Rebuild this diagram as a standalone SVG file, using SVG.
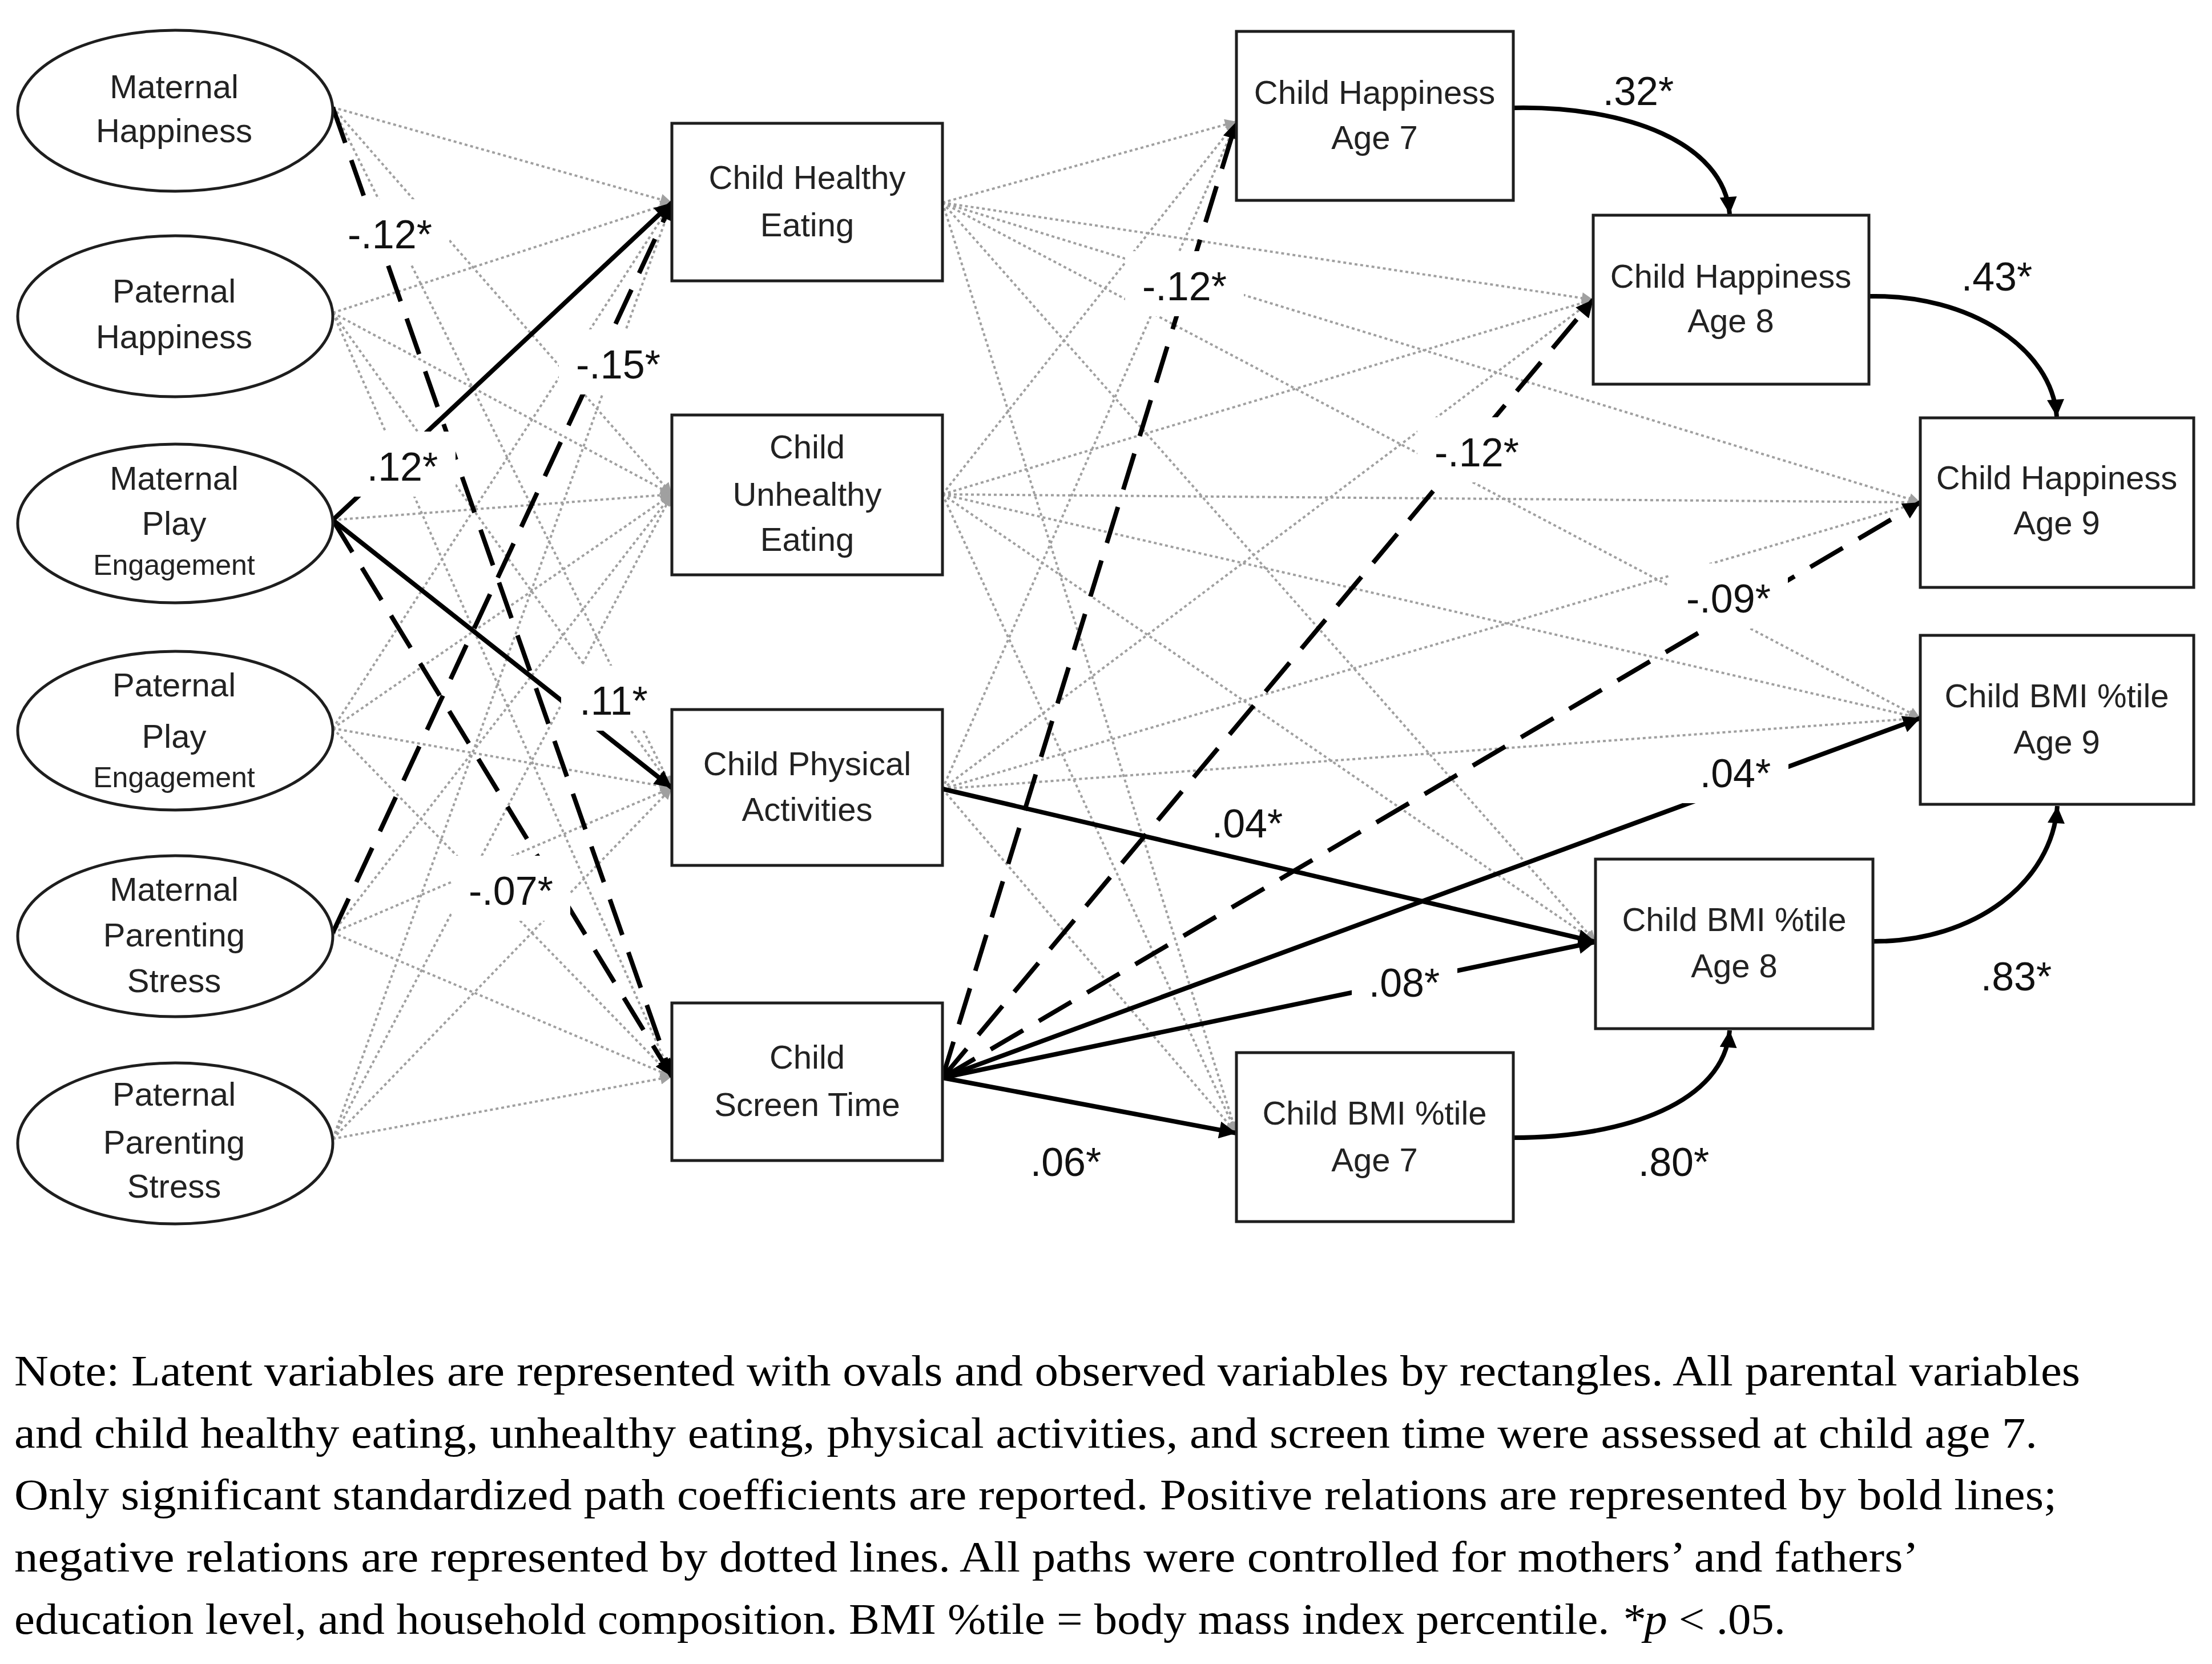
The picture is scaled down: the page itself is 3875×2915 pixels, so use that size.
<svg xmlns="http://www.w3.org/2000/svg" width="3875" height="2915" viewBox="0 0 3875 2915">
<style>
.node rect,.node ellipse{fill:#fff;stroke:#1e1e1e;stroke-width:5}
.nt{font-family:"Liberation Sans",Arial,sans-serif;font-size:58px;fill:#222;text-anchor:middle}
.sm{font-size:50px}
.lbl{font-family:"Liberation Sans",Arial,sans-serif;font-size:70px;fill:#111;text-anchor:middle}
.lbox{fill:#fff}
.dot{stroke:#a0a0a0;stroke-width:4;stroke-dasharray:5 5;fill:none;marker-end:url(#ag)}
.sol{stroke:#000;stroke-width:8;fill:none;marker-end:url(#ab)}
.dsh{stroke:#000;stroke-width:8;stroke-dasharray:66 32;fill:none;marker-end:url(#ab)}
.note{font-family:"Liberation Serif","Times New Roman",serif;font-size:77px;fill:#000}
</style>
<defs>
<marker id="ab" viewBox="0 0 10 10" refX="10" refY="5" markerWidth="38" markerHeight="30" markerUnits="userSpaceOnUse" orient="auto"><path d="M0,0 L10,5 L0,10 z" fill="#000"/></marker>
<marker id="ag" viewBox="0 0 10 10" refX="10" refY="5" markerWidth="22" markerHeight="20" markerUnits="userSpaceOnUse" orient="auto"><path d="M0,0 L10,5 L0,10 z" fill="#a0a0a0"/></marker>
</defs>
<rect width="3875" height="2915" fill="#fff"/>
<g id="connectors">
<g id="dotted-left">
<line class="dot" x1="583" y1="188" x2="1177" y2="355"/>
<line class="dot" x1="583" y1="188" x2="1177" y2="866"/>
<line class="dot" x1="583" y1="188" x2="1177" y2="1380"/>
<line class="dot" x1="583" y1="548" x2="1177" y2="355"/>
<line class="dot" x1="583" y1="548" x2="1177" y2="866"/>
<line class="dot" x1="583" y1="548" x2="1177" y2="1380"/>
<line class="dot" x1="583" y1="548" x2="1177" y2="1886"/>
<line class="dot" x1="583" y1="911" x2="1177" y2="866"/>
<line class="dot" x1="583" y1="1276" x2="1177" y2="355"/>
<line class="dot" x1="583" y1="1276" x2="1177" y2="866"/>
<line class="dot" x1="583" y1="1276" x2="1177" y2="1380"/>
<line class="dot" x1="583" y1="1276" x2="1177" y2="1886"/>
<line class="dot" x1="583" y1="1634" x2="1177" y2="866"/>
<line class="dot" x1="583" y1="1634" x2="1177" y2="1380"/>
<line class="dot" x1="583" y1="1634" x2="1177" y2="1886"/>
<line class="dot" x1="583" y1="1995" x2="1177" y2="355"/>
<line class="dot" x1="583" y1="1995" x2="1177" y2="866"/>
<line class="dot" x1="583" y1="1995" x2="1177" y2="1380"/>
<line class="dot" x1="583" y1="1995" x2="1177" y2="1886"/>
</g>
<g id="dotted-right">
<line class="dot" x1="1651" y1="355" x2="2166" y2="213"/>
<line class="dot" x1="1651" y1="355" x2="2791" y2="525"/>
<line class="dot" x1="1651" y1="355" x2="3364" y2="880"/>
<line class="dot" x1="1651" y1="355" x2="3364" y2="1258"/>
<line class="dot" x1="1651" y1="355" x2="2795" y2="1650"/>
<line class="dot" x1="1651" y1="355" x2="2166" y2="1985"/>
<line class="dot" x1="1651" y1="866" x2="2166" y2="213"/>
<line class="dot" x1="1651" y1="866" x2="2791" y2="525"/>
<line class="dot" x1="1651" y1="866" x2="3364" y2="880"/>
<line class="dot" x1="1651" y1="866" x2="3364" y2="1258"/>
<line class="dot" x1="1651" y1="866" x2="2795" y2="1650"/>
<line class="dot" x1="1651" y1="866" x2="2166" y2="1985"/>
<line class="dot" x1="1651" y1="1382" x2="2166" y2="213"/>
<line class="dot" x1="1651" y1="1382" x2="2791" y2="525"/>
<line class="dot" x1="1651" y1="1382" x2="3364" y2="880"/>
<line class="dot" x1="1651" y1="1382" x2="3364" y2="1258"/>
<line class="dot" x1="1651" y1="1382" x2="2166" y2="1985"/>
</g>
<g id="significant">
<line class="dsh" x1="583" y1="188" x2="1177" y2="1886"/>
<line class="sol" x1="583" y1="911" x2="1177" y2="355"/>
<line class="dsh" x1="583" y1="1634" x2="1177" y2="355"/>
<line class="sol" x1="583" y1="911" x2="1177" y2="1380"/>
<line class="dsh" x1="583" y1="911" x2="1177" y2="1886"/>
<line class="dsh" x1="1651" y1="1888" x2="2166" y2="213"/>
<line class="dsh" x1="1651" y1="1888" x2="2791" y2="525"/>
<line class="dsh" x1="1651" y1="1888" x2="3364" y2="880"/>
<line class="sol" x1="1651" y1="1888" x2="3364" y2="1258"/>
<line class="sol" x1="1651" y1="1382" x2="2795" y2="1650"/>
<line class="sol" x1="1651" y1="1888" x2="2795" y2="1650"/>
<line class="sol" x1="1651" y1="1888" x2="2166" y2="1985"/>
<path class="sol" d="M2651 189 C2850 185 3020 250 3030 375"/>
<path class="sol" d="M3274 519 C3450 515 3595 610 3603 730"/>
<path class="sol" d="M2651 1993 C2850 1993 3020 1930 3030 1805"/>
<path class="sol" d="M3281 1649 C3460 1650 3595 1545 3604 1412"/>
</g>
</g>
<g id="labels">
<rect class="lbox" x="579" y="349" width="208" height="114"/><text class="lbl" x="683" y="435">-.12*</text>
<rect class="lbox" x="613" y="756" width="185" height="114"/><text class="lbl" x="705" y="842">.12*</text>
<rect class="lbox" x="979" y="577" width="208" height="114"/><text class="lbl" x="1083" y="663">-.15*</text>
<rect class="lbox" x="983" y="1166" width="185" height="114"/><text class="lbl" x="1075" y="1252">.11*</text>
<rect class="lbox" x="791" y="1499" width="208" height="114"/><text class="lbl" x="895" y="1585">-.07*</text>
<rect class="lbox" x="1971" y="440" width="208" height="114"/><text class="lbl" x="2075" y="526">-.12*</text>
<rect class="lbox" x="2483" y="731" width="208" height="114"/><text class="lbl" x="2587" y="817">-.12*</text>
<rect class="lbox" x="2924" y="987" width="208" height="114"/><text class="lbl" x="3028" y="1073">-.09*</text>
<rect class="lbox" x="2948" y="1293" width="185" height="114"/><text class="lbl" x="3040" y="1379">.04*</text>
<rect class="lbox" x="2093" y="1385" width="185" height="96"/><text class="lbl" x="2185" y="1467">.04*</text>
<rect class="lbox" x="2368" y="1660" width="185" height="114"/><text class="lbl" x="2460" y="1746">.08*</text>
<rect class="lbox" x="1775" y="1974" width="185" height="114"/><text class="lbl" x="1867" y="2060">.06*</text>
<text class="lbl" x="2870" y="184">.32*</text>
<text class="lbl" x="3498" y="509">.43*</text>
<text class="lbl" x="2932" y="2060">.80*</text>
<text class="lbl" x="3532" y="1735">.83*</text>
</g>
<g id="maternal-happiness" class="node"><ellipse cx="307" cy="194" rx="276" ry="141"/><text class="nt" x="305" y="172">Maternal</text><text class="nt" x="305" y="249">Happiness</text></g>
<g id="paternal-happiness" class="node"><ellipse cx="307" cy="554" rx="276" ry="141"/><text class="nt" x="305" y="530">Paternal</text><text class="nt" x="305" y="610">Happiness</text></g>
<g id="maternal-play" class="node"><ellipse cx="307" cy="917" rx="276" ry="139"/><text class="nt" x="305" y="858">Maternal</text><text class="nt" x="305" y="937">Play</text><text class="nt sm" x="305" y="1007">Engagement</text></g>
<g id="paternal-play" class="node"><ellipse cx="307" cy="1280" rx="276" ry="139"/><text class="nt" x="305" y="1220">Paternal</text><text class="nt" x="305" y="1310">Play</text><text class="nt sm" x="305" y="1379">Engagement</text></g>
<g id="maternal-stress" class="node"><ellipse cx="307" cy="1640" rx="276" ry="141"/><text class="nt" x="305" y="1578">Maternal</text><text class="nt" x="305" y="1658">Parenting</text><text class="nt" x="305" y="1738">Stress</text></g>
<g id="paternal-stress" class="node"><ellipse cx="307" cy="2003" rx="276" ry="141"/><text class="nt" x="305" y="1937">Paternal</text><text class="nt" x="305" y="2021">Parenting</text><text class="nt" x="305" y="2098">Stress</text></g>
<g id="healthy-eating" class="node"><rect x="1177" y="216" width="474" height="276"/><text class="nt" x="1414" y="331">Child Healthy</text><text class="nt" x="1414" y="414">Eating</text></g>
<g id="unhealthy-eating" class="node"><rect x="1177" y="727" width="474" height="280"/><text class="nt" x="1414" y="803">Child</text><text class="nt" x="1414" y="886">Unhealthy</text><text class="nt" x="1414" y="965">Eating</text></g>
<g id="physical-activities" class="node"><rect x="1177" y="1243" width="474" height="273"/><text class="nt" x="1414" y="1358">Child Physical</text><text class="nt" x="1414" y="1438">Activities</text></g>
<g id="screen-time" class="node"><rect x="1177" y="1757" width="474" height="276"/><text class="nt" x="1414" y="1872">Child</text><text class="nt" x="1414" y="1955">Screen Time</text></g>
<g id="happiness-7" class="node"><rect x="2166" y="55" width="485" height="296"/><text class="nt" x="2408" y="182">Child Happiness</text><text class="nt" x="2408" y="261">Age 7</text></g>
<g id="happiness-8" class="node"><rect x="2791" y="377" width="483" height="296"/><text class="nt" x="3032" y="504">Child Happiness</text><text class="nt" x="3032" y="582">Age 8</text></g>
<g id="happiness-9" class="node"><rect x="3364" y="732" width="479" height="297"/><text class="nt" x="3603" y="857">Child Happiness</text><text class="nt" x="3603" y="936">Age 9</text></g>
<g id="bmi-9" class="node"><rect x="3364" y="1113" width="479" height="296"/><text class="nt" x="3603" y="1239">Child BMI %tile</text><text class="nt" x="3603" y="1320">Age 9</text></g>
<g id="bmi-8" class="node"><rect x="2795" y="1505" width="486" height="297"/><text class="nt" x="3038" y="1631">Child BMI %tile</text><text class="nt" x="3038" y="1712">Age 8</text></g>
<g id="bmi-7" class="node"><rect x="2166" y="1844" width="485" height="296"/><text class="nt" x="2408" y="1970">Child BMI %tile</text><text class="nt" x="2408" y="2052">Age 7</text></g>
<g id="note">
<text class="note" x="25" y="2427" textLength="3619" lengthAdjust="spacingAndGlyphs">Note: Latent variables are represented with ovals and observed variables by rectangles. All parental variables</text>
<text class="note" x="25" y="2536" textLength="3544" lengthAdjust="spacingAndGlyphs">and child healthy eating, unhealthy eating, physical activities, and screen time were assessed at child age 7.</text>
<text class="note" x="25" y="2644" textLength="3578" lengthAdjust="spacingAndGlyphs">Only significant standardized path coefficients are reported. Positive relations are represented by bold lines;</text>
<text class="note" x="25" y="2753" textLength="3336" lengthAdjust="spacingAndGlyphs">negative relations are represented by dotted lines. All paths were controlled for mothers’ and fathers’</text>
<text class="note" x="25" y="2862" textLength="3103" lengthAdjust="spacingAndGlyphs">education level, and household composition. BMI %tile = body mass index percentile. <tspan font-style="italic">*p</tspan> &lt; .05.</text>
</g>
</svg>
